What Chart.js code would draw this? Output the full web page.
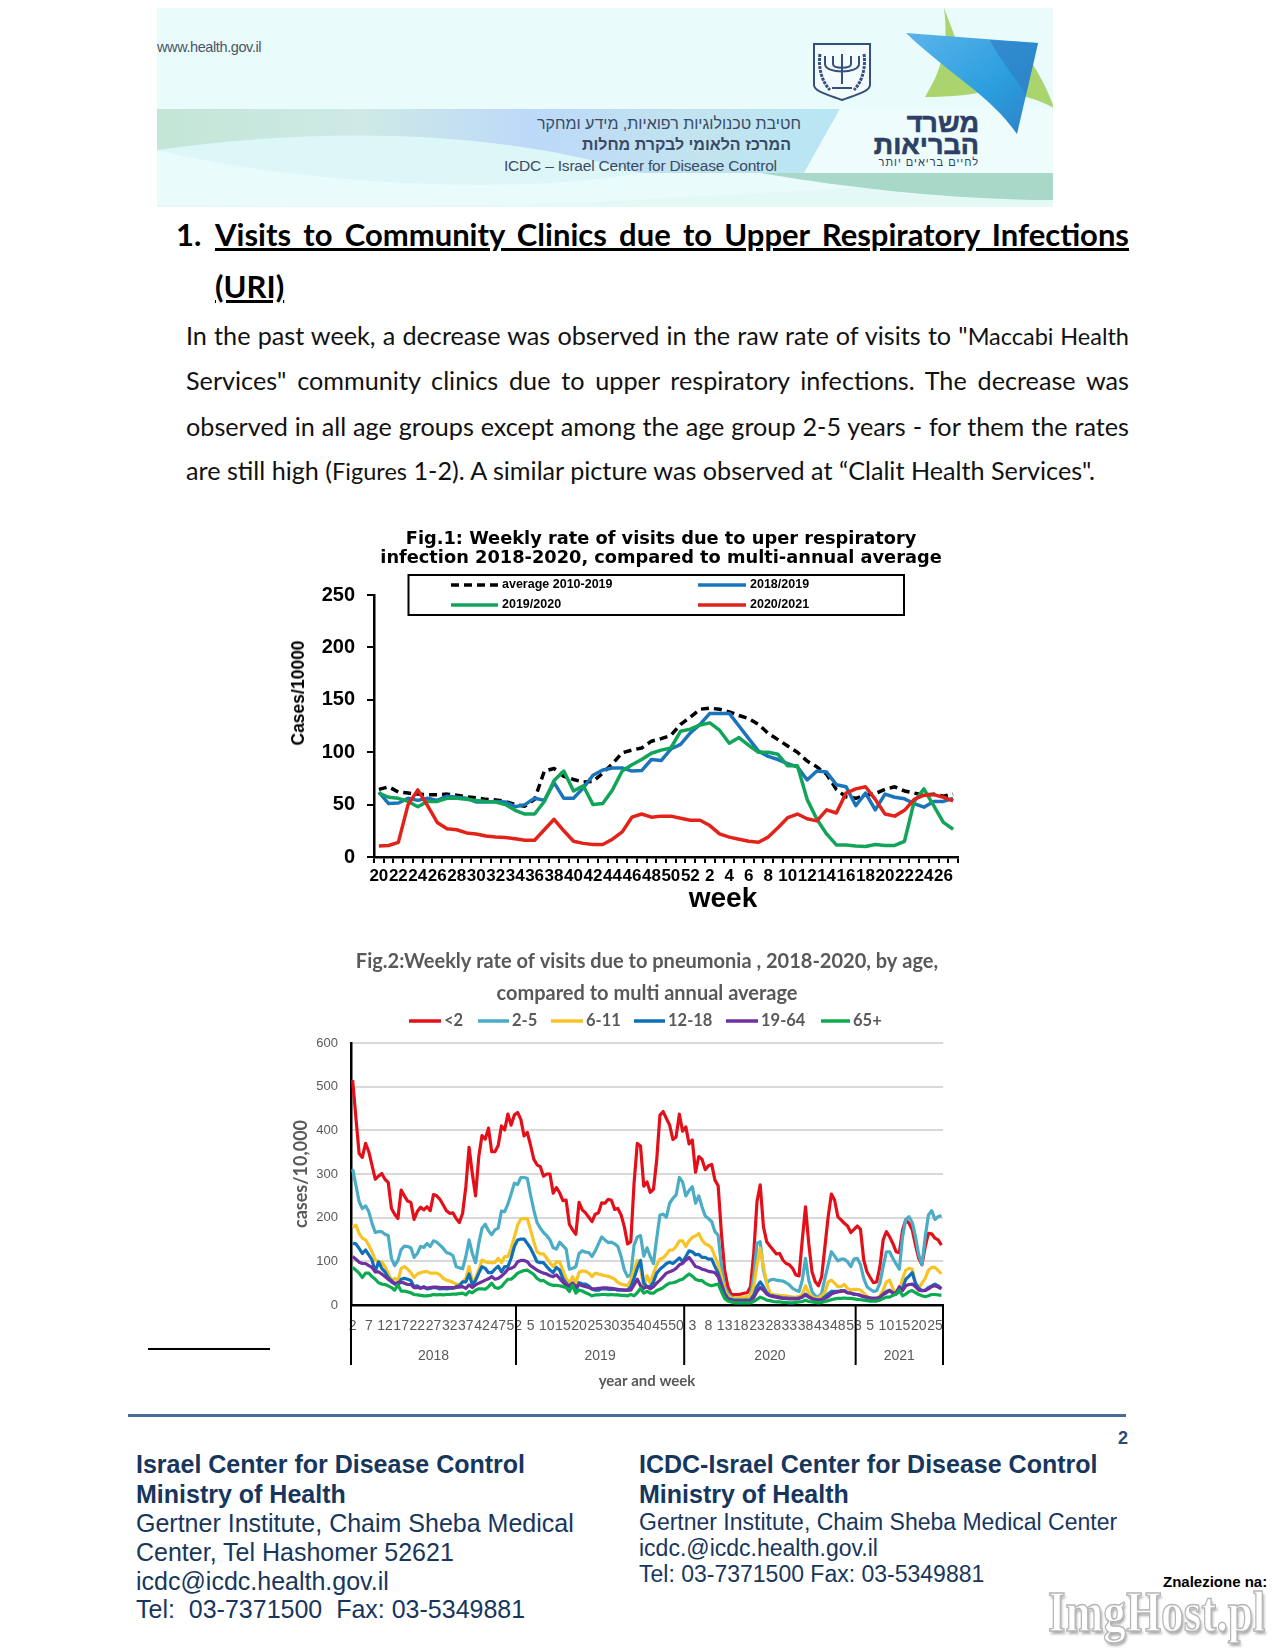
<!DOCTYPE html>
<html>
<head>
<meta charset="UTF-8">
<title>ICDC weekly report</title>
<style type="text/css">
body { margin: 0; background: #fff; }
#page { position: relative; width: 1275px; height: 1650px; overflow: hidden; font-family: "Liberation Sans", Arial, sans-serif; }
#page > div, #page > canvas, #page > svg { position: absolute; }
.h1 { font: bold 31px/40px Lato, sans-serif; color: #000; text-decoration: underline; white-space: nowrap; }
.line { left: 186px; width: 943px; font: 25.2px/34px Lato, sans-serif; color: #111; text-align: justify; text-align-last: justify; white-space: nowrap; }
.line small { font-size: 23.5px; }
.f { white-space: nowrap; color: #17365d; font-size: 25px; line-height: 30px; }
.f.b { font-weight: bold; }
.ban { white-space: nowrap; color: #3a4a63; }
</style>
</head>
<body>
<div id="page">
	<!-- banner -->
	<svg style="left:157px;top:8px" width="896" height="199" viewBox="157 8 896 199">
		<defs>
			<linearGradient id="band" x1="0" x2="1" y1="0" y2="0">
				<stop offset="0" stop-color="#c3e6d6"/>
				<stop offset="0.3" stop-color="#cfe9e6"/>
				<stop offset="0.55" stop-color="#bcd9f9"/>
				<stop offset="0.8" stop-color="#c2e4ee"/>
				<stop offset="1" stop-color="#b8e6f5"/>
			</linearGradient>
			<linearGradient id="star" x1="0" x2="1" y1="0" y2="1">
				<stop offset="0" stop-color="#5cb4ea"/>
				<stop offset="0.6" stop-color="#2a9ede"/>
				<stop offset="1" stop-color="#2f7fc4"/>
			</linearGradient>
		</defs>
		<rect x="157" y="8" width="899" height="199" fill="#e9fbfb"/>
		<path d="M157 109H840L804 173H600C480 173 300 150 157 150Z" fill="url(#band)"/>
		<path d="M157 150C300 130 480 125 640 173C520 195 300 185 157 150Z" fill="#ddf6f8"/>
		<path d="M640 200C800 190 960 185 1056 173V207H157V205C300 207 520 207 640 200Z" fill="#e4f8f6"/>
		<path d="M760 173H1056V200C960 200 860 190 760 173Z" fill="#a8d8c8"/>
		<path d="M840 109L804 173H1056V109Z" fill="#eefcfb"/>
		<path d="M944 8C948 40 945 65 925 97C950 97 975 95 1000 88L960 50Z" fill="#a9d46e"/>
		<path d="M1030 60C1040 75 1050 95 1054 108C1040 100 1020 95 1008 92Z" fill="#a9d46e"/>
		<path d="M906 33L1038 43L1017 134C990 95 950 75 906 33Z" fill="url(#star)"/>
		<path d="M990 40L1038 43L1026 95C1010 70 1000 60 990 40Z" fill="#2f7fc4" opacity="0.7"/>
		<path d="M814 44H870V85C870 92 852 96 842 100C832 96 814 92 814 85Z" fill="#f4fbfc" stroke="#33507e" stroke-width="2"/>
		<path d="M825 56V64C825 74 859 74 859 64V56M833 56V64C833 69 851 69 851 64V56M842 54V84M832 88H852" fill="none" stroke="#33507e" stroke-width="2"/>
		<path d="M820 54C818 68 822 82 830 90M864 54C866 68 862 82 854 90" fill="none" stroke="#33507e" stroke-width="3" stroke-dasharray="3 1"/>
	</svg>
	<div class="ban" style="left:157px;top:36px;font:14.5px/22px 'Liberation Sans';letter-spacing:-0.4px;color:#4a5566">www.health.gov.il</div>
	<div class="ban" dir="rtl" style="right:474px;top:114px;font:16px/20px 'Liberation Sans'">חטיבת טכנולוגיות רפואיות, מידע ומחקר</div>
	<div class="ban" dir="rtl" style="right:484px;top:135px;font:bold 16px/20px 'Liberation Sans'">המרכז הלאומי לבקרת מחלות</div>
	<div class="ban" style="left:504px;top:155px;font:15.5px/22px 'Liberation Sans';letter-spacing:-0.2px">ICDC – Israel Center for Disease Control</div>
	<div class="ban" dir="rtl" style="right:296px;top:108px;font:bold 27px/30px 'Liberation Sans';color:#2c3f66;-webkit-text-stroke:0.6px #2c3f66">משרד</div>
	<div class="ban" dir="rtl" style="right:296px;top:130px;font:bold 27px/30px 'Liberation Sans';color:#2c3f66;-webkit-text-stroke:0.6px #2c3f66">הבריאות</div>
	<div class="ban" dir="rtl" style="right:296px;top:155px;font:11px/14px 'Liberation Sans';letter-spacing:1px;color:#2c3f66">לחיים בריאים יותר</div>

	<!-- text -->
	<div class="h1" style="left:176px;top:214px;text-decoration:none">1.</div>
	<div class="h1" style="left:215px;top:214px;width:914px;text-align:justify;text-align-last:justify">Visits to Community Clinics due to Upper Respiratory Infections</div>
	<div class="h1" style="left:215px;top:266px">(URI)</div>
	<div class="line" style="top:318px">In the past week, a decrease was observed in the raw rate of visits to "<small>Maccabi Health</small></div>
	<div class="line" style="top:363px">Services" community clinics due to upper respiratory infections. The decrease was</div>
	<div class="line" style="top:409px">observed in all age groups except among the age group 2-5 years - for them the rates</div>
	<div class="line" style="top:453px;text-align-last:left">are still high (<small>Figures</small> 1-2). A similar picture was observed at “Clalit Health Services".</div>

	<!-- figures -->
	<canvas id="fig1" width="782" height="386" style="left:270px;top:525px"></canvas>
	<div style="left:298px;top:693px;transform:translate(-50%,-50%) rotate(-90deg);font:bold 17.5px/20px 'Liberation Sans';white-space:nowrap">Cases/10000</div>
	<div style="left:723px;top:898px;transform:translate(-50%,-50%);font:bold 28px/28px 'Liberation Sans';white-space:nowrap">week</div>
	<canvas id="fig2" width="774" height="455" style="left:260px;top:940px"></canvas>

	<!-- footer -->
	<div style="left:148px;top:1348px;width:122px;height:1.5px;background:#000"></div>
	<div style="left:128px;top:1414px;width:998px;height:2.5px;background:#4a6a9a"></div>
	<div style="left:1118px;top:1428px;font:bold 18px/20px 'Liberation Sans';color:#2c4a78">2</div>
	<div class="f b" style="left:136px;top:1449px">Israel Center for Disease Control</div>
	<div class="f b" style="left:136px;top:1479px">Ministry of Health</div>
	<div class="f" style="left:136px;top:1508px">Gertner Institute, Chaim Sheba Medical</div>
	<div class="f" style="left:136px;top:1537px">Center, Tel Hashomer 52621</div>
	<div class="f" style="left:136px;top:1566px">icdc@icdc.health.gov.il</div>
	<div class="f" style="left:136px;top:1594px">Tel:&nbsp; 03-7371500&nbsp; Fax: 03-5349881</div>
	<div class="f b" style="left:639px;top:1449px">ICDC-Israel Center for Disease Control</div>
	<div class="f b" style="left:639px;top:1479px">Ministry of Health</div>
	<div class="f" style="left:639px;top:1507px;font-size:23px">Gertner Institute, Chaim Sheba Medical Center</div>
	<div class="f" style="left:639px;top:1533px;font-size:23px">icdc.@icdc.health.gov.il</div>
	<div class="f" style="left:639px;top:1559px;font-size:23px">Tel: 03-7371500 Fax: 03-5349881</div>
	<div style="left:1163px;top:1574px;font:bold 15px/16px 'Liberation Sans';white-space:nowrap">Znalezione na:</div>
	<div style="left:1048px;top:1582px;font:bold 58px/60px 'Liberation Serif';white-space:nowrap;color:#fff;-webkit-text-stroke:1.5px #b5b5b5;text-shadow:2px 3px 3px #aaa;transform:scaleX(0.78);transform-origin:left top">ImgHost.pl</div>
</div>

<script src="https://cdn.jsdelivr.net/npm/chart.js@4"></script>
<script>
	// Fig.1 - one value per week, week 20 to week 27 of the next year
	const weeksFig1 = [20,21,22,23,24,25,26,27,28,29,30,31,32,33,34,35,36,37,38,39,40,41,42,43,44,45,46,47,48,49,50,51,52,
		1,2,3,4,5,6,7,8,9,10,11,12,13,14,15,16,17,18,19,20,21,22,23,24,25,26,27];
	const average = [64.5,67,62,61,60,59.5,59.5,60,59,57.5,
		56.5,55,54.5,53,50,48.5,55,82,84.5,77,
		74,71.5,72,80,89,99.5,102,104,110.5,113,
		116,126.5,133.5,141,142,141,138.5,135,132,126.5,
		118,112,106,100,91.5,86,79,64.5,57.5,56,
		59,60.5,64.5,67,63,61,59,60,58,60];
	const season1819 = [62,51,51.5,56,54,56,54,58,57,56,
		52.5,52.5,53,52.5,48,50,56,54,71,56,
		56,66,78,83,85,85,82,82.5,93,92,
		103,107.5,118.5,126.5,137,137,137,125,113,101,
		96,93,89,86,73.5,82,81,69,67,49,
		61,45,60,57,55.5,51,47.5,53,53,56];
	const season1920 = [61,57,56,53,48,53,53,56,56,55,
		54,53,52.5,50,44.5,41,41,53,73,82,
		63,68,50,51,64,82,88,93,99,102,
		104,120,122,126,128,121,108.5,114,106.5,100,
		100,98,87,87,55,36,22,11.5,11.5,10.5,
		10,12,11,11,15,53,65,49,33,26.5];
	const season2021 = [10.5,11,14,50,64,49,33,27,26,23,
		22,20,19,18.5,17.5,16,16,26,36,25,
		15,13,12,12,17,24,38,41,38,39,
		39,37,35,35,30,22,19,17,15,14,
		19,28,37.5,41,36.5,34.5,45,42,61,65,
		67,55,41,39,44.5,55,59,59.5,57,53.5];

	// Fig.2 - 183 weeks from week 2 of 2018
	const yearNames = ['2018','2019','2020','2021'];
	const yearFirstWeek = [2,1,1,1];
	const yearLastWeek = [52,52,53,27];
	const ageUnder2 = [515,431,347,338,370,351,320,288,295,301,
		288,281,221,208,198,263,250,238,235,196,
		214,224,218,225,216,253,250,242,229,216,
		210,211,198,189,210,271,361,301,250,340,
		388,380,405,351,351,365,410,401,437,412,
		435,441,425,387,395,366,334,321,317,295,
		300,300,256,269,257,239,240,185,172,162,
		235,218,211,201,191,208,211,234,233,242,
		240,219,221,206,179,140,145,279,370,364,
		272,282,258,265,332,435,443,427,412,379,
		385,437,398,408,369,378,304,340,334,310,
		319,322,286,273,164,80,42,25,24,24,
		25,27,28,42,118,237,275,179,145,135,
		126,117,118,103,95,92,84,69,67,149,
		225,141,76,53,44,65,134,202,254,240,
		202,195,187,181,166,173,181,173,103,76,
		63,51,53,88,149,168,156,141,122,120,
		172,195,187,172,137,107,92,134,164,163,153,149,137];
	const age2to5 = [311,275,237,221,227,214,187,166,168,168,
		162,159,107,90,102,127,135,134,131,109,
		118,134,132,141,134,147,144,137,130,120,
		118,113,88,85,83,111,149,118,97,141,
		176,185,170,161,172,176,215,214,231,254,
		279,276,292,292,290,252,218,189,176,166,
		159,149,131,128,144,136,128,82,84,88,
		118,124,121,120,111,124,140,156,149,143,
		144,140,134,111,80,65,69,137,156,159,
		112,131,111,95,153,206,208,201,233,244,
		252,292,282,250,262,271,233,250,225,204,
		198,191,168,160,88,42,27,18,16,16,
		16,16,18,21,65,141,145,80,50,57,
		59,57,56,55,51,46,38,34,31,57,
		107,57,31,21,18,27,61,92,122,112,
		101,105,105,99,88,105,107,92,61,42,
		36,31,33,50,88,122,122,107,94,82,
		156,196,202,189,156,115,93,156,206,216,196,202,205];
	const age6to11 = [178,183,164,153,149,137,122,103,99,98,
		88,73,57,61,56,84,88,82,74,63,
		71,74,76,77,73,73,73,69,61,57,
		55,52,48,46,53,61,88,53,61,80,
		103,99,97,97,97,107,97,111,111,130,
		156,183,197,198,198,172,145,122,117,117,
		107,97,88,99,98,80,61,50,65,50,
		75,78,77,73,65,73,71,69,67,66,
		63,59,52,48,46,44,57,80,102,82,
		42,67,50,73,92,105,108,116,126,126,
		134,147,147,134,147,155,158,164,149,140,
		137,130,111,92,65,34,21,16,15,16,
		17,18,19,19,42,92,130,88,50,27,
		24,23,22,21,21,19,18,18,19,25,
		44,27,19,16,15,21,28,53,57,50,
		42,42,47,38,34,36,36,34,27,19,
		17,15,15,21,34,53,57,38,25,31,
		61,80,84,82,50,38,50,61,80,86,86,79,71];
	const age12to18 = [141,140,130,118,126,115,103,76,99,84,
		76,63,56,50,44,59,61,59,56,42,
		44,38,42,37,38,40,39,37,38,37,
		38,38,42,44,53,53,71,46,56,73,
		88,84,74,74,82,89,76,88,88,107,
		134,149,151,151,141,130,115,99,97,97,
		88,80,74,86,80,61,50,42,50,31,
		51,48,48,44,36,34,34,37,37,36,
		36,36,34,34,34,34,42,61,84,102,
		50,42,42,53,73,82,88,95,98,95,
		101,108,99,111,124,122,115,116,109,109,
		105,105,88,73,50,27,15,13,11,11,
		11,11,11,12,23,42,53,42,28,22,
		21,19,18,16,16,15,15,15,16,19,
		25,19,15,13,12,13,19,25,31,31,
		31,33,33,28,27,25,24,22,19,17,
		15,15,15,18,25,31,34,28,25,31,
		38,59,66,74,50,38,33,34,40,44,48,44,38];
	const age19to64 = [111,105,98,95,95,90,86,76,76,71,
		65,59,53,48,52,52,50,47,47,40,
		40,40,40,39,40,41,41,40,40,40,
		40,40,40,41,42,38,46,40,46,50,
		53,57,60,65,59,61,66,73,82,84,
		88,99,102,102,99,90,85,80,76,73,
		71,67,65,69,61,52,46,44,50,42,
		47,44,42,40,37,37,38,39,39,39,
		38,37,36,35,34,34,34,46,59,44,
		38,42,37,42,50,57,65,73,76,79,
		84,92,95,103,109,99,88,86,82,80,
		77,76,74,65,42,23,13,10,9,9,
		9,9,9,10,17,31,40,34,25,21,
		19,18,16,15,15,14,14,14,15,18,
		23,18,14,12,11,11,15,19,25,28,
		30,31,32,28,27,25,24,22,19,18,
		16,15,15,18,24,28,33,27,28,42,
		33,44,47,48,42,34,33,33,37,42,44,41,37];
	const age65plus = [86,80,73,63,73,73,65,59,51,48,
		47,44,40,34,46,32,32,30,28,24,
		23,22,21,21,22,24,23,24,23,24,
		24,25,25,26,27,23,31,28,34,37,
		37,36,42,50,40,38,42,51,59,59,
		65,73,76,79,80,75,70,61,56,56,
		51,47,45,45,44,42,40,31,46,27,
		34,32,28,25,21,23,23,24,24,23,
		24,23,23,22,22,21,24,21,28,38,
		27,31,27,27,33,36,40,46,50,51,
		53,57,59,65,71,66,59,56,56,50,
		46,44,46,48,31,15,9,7,5,5,
		5,5,5,5,8,13,18,15,11,10,
		8,7,7,6,6,5,5,6,7,8,
		11,8,7,6,5,6,8,10,12,14,
		15,15,16,15,15,14,13,12,11,10,
		9,9,9,11,15,18,18,22,25,34,
		21,25,31,33,28,24,21,19,21,24,24,23,22];

	let weeksFig2 = [];
	let yearStart = [];
	for (let y = 0; y < yearNames.length; y++) {
		yearStart.push(weeksFig2.length);
		for (let w = yearFirstWeek[y]; w <= yearLastWeek[y]; w++) {
			weeksFig2.push(w);
		}
	}
	yearStart.push(weeksFig2.length);

	// line samples and their labels, placed by hand like in the original
	const lineKey = {
		id: 'lineKey',
		afterDraw(chart, args, opts) {
			const ctx = chart.ctx;
			ctx.save();
			if (opts.frame) {
				ctx.strokeStyle = '#000';
				ctx.lineWidth = 2;
				ctx.strokeRect(opts.frame[0], opts.frame[1], opts.frame[2], opts.frame[3]);
			}
			ctx.font = opts.font;
			ctx.fillStyle = opts.color;
			ctx.textBaseline = 'middle';
			opts.items.forEach(function(it) {
				const ds = chart.data.datasets[it.ds];
				ctx.beginPath();
				ctx.strokeStyle = ds.borderColor;
				ctx.lineWidth = 3.5;
				ctx.setLineDash(ds.borderDash || []);
				ctx.moveTo(it.x0, it.y);
				ctx.lineTo(it.x1, it.y);
				ctx.stroke();
				ctx.setLineDash([]);
				ctx.fillText(ds.label, it.tx, it.y);
			});
			ctx.restore();
		}
	};

	// year row under the week labels of fig.2
	const yearRow = {
		id: 'yearRow',
		afterDraw(chart) {
			const ctx = chart.ctx;
			const x = chart.scales.x;
			const step = x.width / weeksFig2.length;
			const edge = function(i) { return x.getPixelForValue(i) - step / 2; };
			ctx.save();
			ctx.strokeStyle = '#000';
			ctx.lineWidth = 2;
			ctx.fillStyle = '#595959';
			ctx.font = '14px "Liberation Sans"';
			ctx.textAlign = 'center';
			ctx.textBaseline = 'middle';
			yearStart.forEach(function(s, i) {
				ctx.beginPath();
				ctx.moveTo(edge(s), x.top);
				ctx.lineTo(edge(s), x.top + 60);
				ctx.stroke();
				if (i < yearNames.length) {
					ctx.fillText(yearNames[i], (edge(s) + edge(yearStart[i + 1])) / 2, x.top + 51);
				}
			});
			ctx.restore();
		}
	};

	function line(label, data, color, i, width, dash) {
		return { label: label, data: data, borderColor: color, backgroundColor: color, borderWidth: width,
			borderDash: dash, pointRadius: 0, tension: 0, order: 10 - i, borderJoinStyle: 'round' };
	}

	// empty axis on the right, keeps the plot where it is while the title stays centred on the canvas
	function spacerAxis(w) {
		return { position: 'right', afterFit(s) { s.width = w; }, border: { display: false },
			grid: { display: false }, ticks: { display: false } };
	}

	new Chart(document.getElementById('fig1'), {
		type: 'line',
		plugins: [lineKey],
		data: {
			labels: weeksFig1,
			datasets: [
				line('average 2010-2019', average, '#000000', 0, 3.5, [8, 5]),
				line('2018/2019', season1819, '#1b75bb', 1, 3.5),
				line('2019/2020', season1920, '#12a55a', 2, 3.5),
				line('2020/2021', season2021, '#e2231a', 3, 3.5)
			]
		},
		options: {
			responsive: false,
			animation: false,
			layout: { autoPadding: false },
			plugins: {
				legend: { display: false },
				tooltip: { enabled: false },
				title: {
					display: true,
					text: ['Fig.1: Weekly rate of visits due to uper respiratory', 'infection 2018-2020, compared to multi-annual average'],
					color: '#000',
					font: { family: 'DejaVu Sans', size: 17.8, weight: 'bold', lineHeight: 1.067 },
					padding: { top: 5, bottom: 27 }
				},
				lineKey: {
					frame: [138.5, 50, 495.5, 40],
					font: 'bold 12.5px "Liberation Sans"',
					color: '#000',
					items: [
						{ ds: 0, x0: 181, x1: 228, tx: 232, y: 60 },
						{ ds: 1, x0: 428, x1: 476, tx: 480, y: 60 },
						{ ds: 2, x0: 181, x1: 228, tx: 232, y: 80 },
						{ ds: 3, x0: 428, x1: 476, tx: 480, y: 80 }
					]
				}
			},
			scales: {
				x: {
					offset: true,
					afterFit(s) { s.height = 54; },
					border: { color: '#000', width: 2.5 },
					grid: { offset: true, drawOnChartArea: false, color: '#000', lineWidth: 2, tickLength: 6 },
					ticks: {
						autoSkip: false, maxRotation: 0, padding: 3, color: '#000',
						font: { family: 'Liberation Sans', size: 17, weight: 'bold' },
						callback: function(v, i) { return i % 2 === 0 ? weeksFig1[i] : ''; }
					}
				},
				y: {
					min: 0, max: 250,
					afterFit(s) { s.width = 104; },
					border: { color: '#000', width: 2.5 },
					grid: { drawOnChartArea: false, color: '#000', lineWidth: 2, tickLength: 7 },
					ticks: { stepSize: 50, padding: 12, color: '#000', font: { family: 'Liberation Sans', size: 20, weight: 'bold' } }
				},
				spacer: spacerAxis(94)
			}
		}
	});

	new Chart(document.getElementById('fig2'), {
		type: 'line',
		plugins: [lineKey, yearRow],
		data: {
			labels: weeksFig2,
			datasets: [
				line('<2', ageUnder2, '#e3101a', 0, 3.2),
				line('2-5', age2to5, '#4bacc6', 1, 3.2),
				line('6-11', age6to11, '#f7c325', 2, 3.2),
				line('12-18', age12to18, '#0f6fb8', 3, 3.2),
				line('19-64', age19to64, '#7030a0', 4, 3.2),
				line('65+', age65plus, '#0cab50', 5, 3.2)
			]
		},
		options: {
			responsive: false,
			animation: false,
			layout: { autoPadding: false },
			plugins: {
				legend: { display: false },
				tooltip: { enabled: false },
				title: {
					display: true,
					text: ['Fig.2:Weekly rate of visits due to pneumonia , 2018-2020, by age,', 'compared to multi annual average'],
					color: '#595959',
					font: { family: 'Lato', size: 20, weight: 'bold', lineHeight: 1.6 },
					padding: { top: 6, bottom: 33 }
				},
				lineKey: {
					font: 'bold 16.5px Lato',
					color: '#595959',
					items: [
						{ ds: 0, x0: 149, x1: 181, tx: 184, y: 81 },
						{ ds: 1, x0: 218, x1: 249, tx: 252, y: 81 },
						{ ds: 2, x0: 291, x1: 323, tx: 326, y: 81 },
						{ ds: 3, x0: 374, x1: 405, tx: 408, y: 81 },
						{ ds: 4, x0: 466, x1: 498, tx: 501, y: 81 },
						{ ds: 5, x0: 561, x1: 590, tx: 593, y: 81 }
					]
				}
			},
			scales: {
				x: {
					offset: true,
					afterFit(s) { s.height = 90; },
					border: { color: '#000', width: 2.5 },
					grid: { display: false, drawTicks: false },
					ticks: {
						autoSkip: false, maxRotation: 0, padding: 13, color: '#595959',
						font: { family: 'Liberation Sans', size: 14 },
						callback: function(v, i) { return i % 5 === 0 ? weeksFig2[i] : ''; }
					},
					title: {
						display: true, text: 'year and week', color: '#595959',
						font: { family: 'Lato', size: 15, weight: 'bold' },
						padding: { bottom: 5, top: 0 }
					}
				},
				y: {
					min: 0, max: 600,
					afterFit(s) { s.width = 91; },
					border: { color: '#000', width: 2.5 },
					grid: { color: '#d9d9d9', lineWidth: 2, drawTicks: false },
					ticks: { stepSize: 100, padding: 13, color: '#595959', font: { family: 'Liberation Sans', size: 13 } },
					title: {
						display: true, text: 'cases/10,000', color: '#595959',
						font: { family: 'Lato', size: 18, weight: 'bold' },
						padding: { top: 30, bottom: 0 }
					}
				},
				spacer: spacerAxis(91)
			}
		}
	});
</script>
</body>
</html>
